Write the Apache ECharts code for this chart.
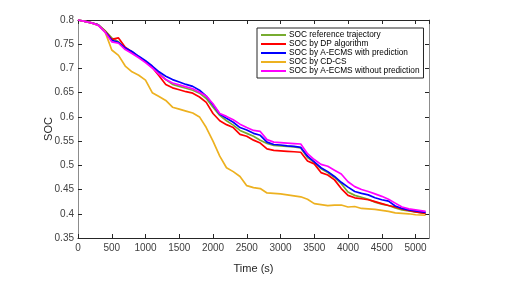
<!DOCTYPE html>
<html><head><meta charset="utf-8">
<script src="https://cdn.jsdelivr.net/npm/echarts@6/dist/echarts.min.js"></script>
<style>html,body{margin:0;padding:0;background:#fff}#c{width:517px;height:287px}</style>
</head><body><div id="c"></div>
<script>
const time = [0,100,200,300,400,500,600,700,800,900,1000,1100,1200,1300,1400,1500,1600,1700,1800,1900,2000,2100,2200,2300,2400,2500,2600,2700,2800,2900,3000,3100,3200,3300,3400,3500,3600,3700,3800,3900,4000,4100,4200,4300,4400,4500,4600,4700,4800,4900,5000,5150];
const socRef = [0.8,0.797,0.794,0.790,0.778,0.763,0.755,0.741,0.734,0.724,0.714,0.703,0.690,0.677,0.667,0.663,0.659,0.655,0.649,0.638,0.620,0.603,0.592,0.583,0.572,0.566,0.560,0.552,0.545,0.541,0.540,0.539,0.538,0.536,0.516,0.506,0.493,0.485,0.475,0.462,0.445,0.438,0.434,0.430,0.424,0.420,0.417,0.412,0.408,0.406,0.404,0.401];
const socDP = [0.8,0.797,0.794,0.790,0.777,0.760,0.763,0.744,0.734,0.724,0.714,0.702,0.685,0.667,0.660,0.656,0.652,0.649,0.641,0.630,0.607,0.592,0.584,0.578,0.564,0.560,0.552,0.546,0.534,0.531,0.530,0.529,0.528,0.527,0.509,0.503,0.485,0.480,0.470,0.452,0.438,0.433,0.431,0.429,0.425,0.421,0.417,0.414,0.410,0.407,0.404,0.401];
const socPred = [0.8,0.797,0.794,0.790,0.776,0.758,0.754,0.742,0.735,0.725,0.716,0.705,0.693,0.684,0.677,0.672,0.667,0.663,0.655,0.643,0.625,0.606,0.597,0.589,0.578,0.573,0.566,0.562,0.548,0.543,0.542,0.540,0.539,0.537,0.519,0.507,0.495,0.487,0.477,0.465,0.455,0.446,0.442,0.439,0.433,0.429,0.426,0.416,0.411,0.408,0.406,0.403];
const socCDCS = [0.8,0.797,0.794,0.789,0.776,0.738,0.727,0.705,0.693,0.686,0.676,0.650,0.642,0.634,0.620,0.616,0.612,0.608,0.600,0.578,0.550,0.519,0.495,0.487,0.477,0.458,0.454,0.452,0.443,0.442,0.441,0.439,0.437,0.435,0.430,0.421,0.419,0.417,0.418,0.418,0.414,0.415,0.411,0.410,0.409,0.407,0.405,0.402,0.401,0.400,0.398,0.397];
const socNoPred = [0.8,0.797,0.794,0.789,0.775,0.755,0.752,0.739,0.731,0.722,0.712,0.701,0.688,0.677,0.670,0.666,0.662,0.658,0.651,0.643,0.627,0.607,0.601,0.594,0.585,0.578,0.572,0.570,0.553,0.548,0.547,0.546,0.545,0.544,0.524,0.512,0.502,0.498,0.490,0.482,0.466,0.456,0.450,0.446,0.441,0.436,0.430,0.422,0.414,0.410,0.408,0.405];
const names = ['SOC reference trajectory','SOC by DP algorithm','SOC by A-ECMS with prediction','SOC by CD-CS','SOC by A-ECMS without prediction'];
const colors = ['#77AC30','#FF0000','#0000FF','#EDB120','#FF00FF'];
const seriesData = [socRef, socDP, socPred, socCDCS, socNoPred];

const chart = echarts.init(document.getElementById('c'));
const font = 'Liberation Sans, Arial, sans-serif';
const axCol = '#262626';
const labCol = '#404040';
function xa(pos, showLab){
  return {type:'value', position:pos, min:0, max:5200, interval:500,
    name: showLab ? 'Time (s)' : '', nameLocation:'middle', nameGap:25,
    nameTextStyle:{fontFamily:font,fontSize:11,color:axCol},
    axisLine:{show:true,onZero:false,lineStyle:{color:axCol,width:1}},
    axisTick:{show:true,inside:true,length:4,lineStyle:{color:axCol}},
    axisLabel:{show:showLab,showMaxLabel:false,fontFamily:font,fontSize:10,color:labCol,margin:5,
      formatter:v=>String(v)},
    splitLine:{show:false}};
}
function ya(pos, showLab){
  return {type:'value', position:pos, min:0.35, max:0.8, interval:0.05,
    name: showLab ? 'SOC' : '', nameLocation:'middle', nameGap:24, nameRotate:90,
    nameMoveOverlap:false,
    nameTextStyle:{fontFamily:font,fontSize:11,color:axCol},
    axisLine:{show:true,onZero:false,lineStyle:{color:'#8c8c8c',width:1}},
    axisTick:{show:true,inside:true,length:4,lineStyle:{color:axCol}},
    axisLabel:{show:showLab,fontFamily:font,fontSize:10,color:labCol,margin:4,
      formatter:v=>String(parseFloat(v.toFixed(2)))},
    splitLine:{show:false}};
}
chart.setOption({
  animation:false,
  backgroundColor:'#fff',
  grid:{left:78,right:88,top:20,bottom:49,containLabel:false},
  xAxis:[xa('bottom',true), xa('top',false)],
  yAxis:[ya('left',true), ya('right',false)],
  legend:{orient:'vertical', left:257, top:28,
    backgroundColor:'#fff', borderColor:axCol, borderWidth:1, borderRadius:0,
    padding:[3,4,3,4], itemGap:1, itemWidth:25, itemHeight:2, icon:'rect',
    textStyle:{fontFamily:font,fontSize:8.3,color:'#000',padding:[0,0,0,-2]},
    data:names},
  series: seriesData.map((d,i)=>({
    name:names[i], type:'line', xAxisIndex:0, yAxisIndex:0,
    data: time.map((t,k)=>[t,d[k]]),
    showSymbol:false, symbol:'none',
    lineStyle:{color:colors[i],width:1.7}, itemStyle:{color:colors[i]},
    z: i===4 ? 6 : (i===2 ? 5 : 2+i)
  }))
});
</script></body></html>
